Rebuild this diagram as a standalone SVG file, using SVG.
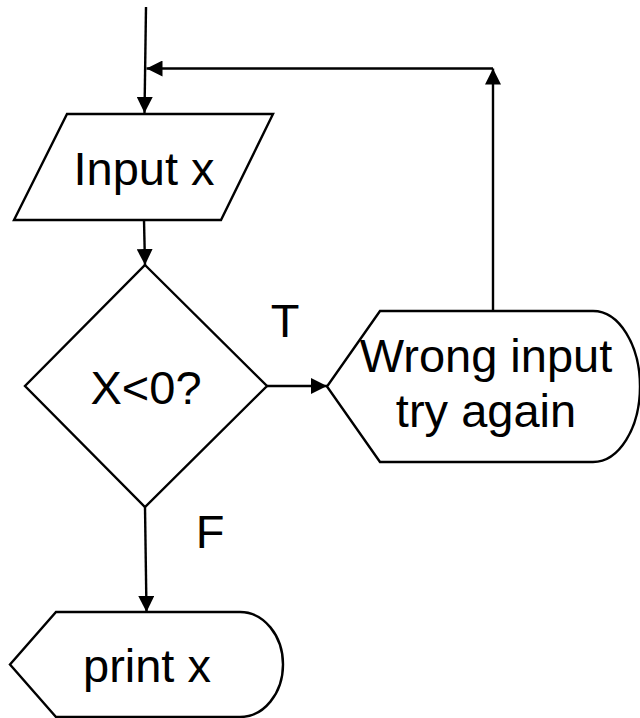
<svg xmlns="http://www.w3.org/2000/svg" width="640" height="718" viewBox="0 0 640 718">
  <style>
    .shape { fill: #ffffff; stroke: #000000; stroke-width: 2.4; stroke-linejoin: miter; }
    .edge { fill: none; stroke: #000000; stroke-width: 2.4; }
    .label { font-family: "Liberation Sans", Arial, sans-serif; font-size: 47px; fill: #000000; text-anchor: middle; }
  </style>
  <defs>
    <marker id="arrow" viewBox="0 0 16 16" refX="16" refY="8" markerWidth="16" markerHeight="16" markerUnits="userSpaceOnUse" orient="auto">
      <path d="M0,0 L16,8 L0,16 Z" fill="#000000"/>
    </marker>
  </defs>
  <rect width="640" height="718" fill="#ffffff"/>

  <g id="connectors">
    <!-- entry line into the input block -->
    <path class="edge" d="M146,7 L144.5,113" marker-end="url(#arrow)"/>
    <!-- input to decision -->
    <path class="edge" d="M144,220 L145,265" marker-end="url(#arrow)"/>
    <!-- true branch -->
    <path class="edge" d="M267,386 L327,386" marker-end="url(#arrow)"/>
    <!-- false branch -->
    <path class="edge" d="M145,507 L146.5,612" marker-end="url(#arrow)"/>
    <!-- loop back: up from the error display -->
    <path class="edge" d="M493,311 L493,68.5" marker-end="url(#arrow)"/>
    <!-- loop back: left to the entry line -->
    <path class="edge" d="M493,68.5 L146.5,68.5" marker-end="url(#arrow)"/>
  </g>

  <g id="input-x">
    <polygon class="shape" points="67,114 273,114 221,220 14,220"/>
    <text class="label" x="144" y="185">Input x</text>
  </g>

  <g id="decision">
    <polygon class="shape" points="145,265 267,386 145,507 25,386"/>
    <text class="label" x="146" y="404">X&lt;0?</text>
  </g>

  <g id="label-t">
    <text class="label" x="285" y="337">T</text>
  </g>

  <g id="label-f">
    <text class="label" x="210" y="548">F</text>
  </g>

  <g id="wrong-input">
    <path class="shape" d="M380,311 L593,311 A47,75.5 0 0 1 593,462 L380,462 L327,386.5 Z"/>
    <text class="label" x="486" y="372">Wrong input</text>
    <text class="label" x="486" y="427">try again</text>
  </g>

  <g id="print-x">
    <path class="shape" d="M56,612 L240,612 A43,52.5 0 0 1 240,717 L56,717 L10,664.5 Z"/>
    <text class="label" x="147" y="682">print x</text>
  </g>
</svg>
